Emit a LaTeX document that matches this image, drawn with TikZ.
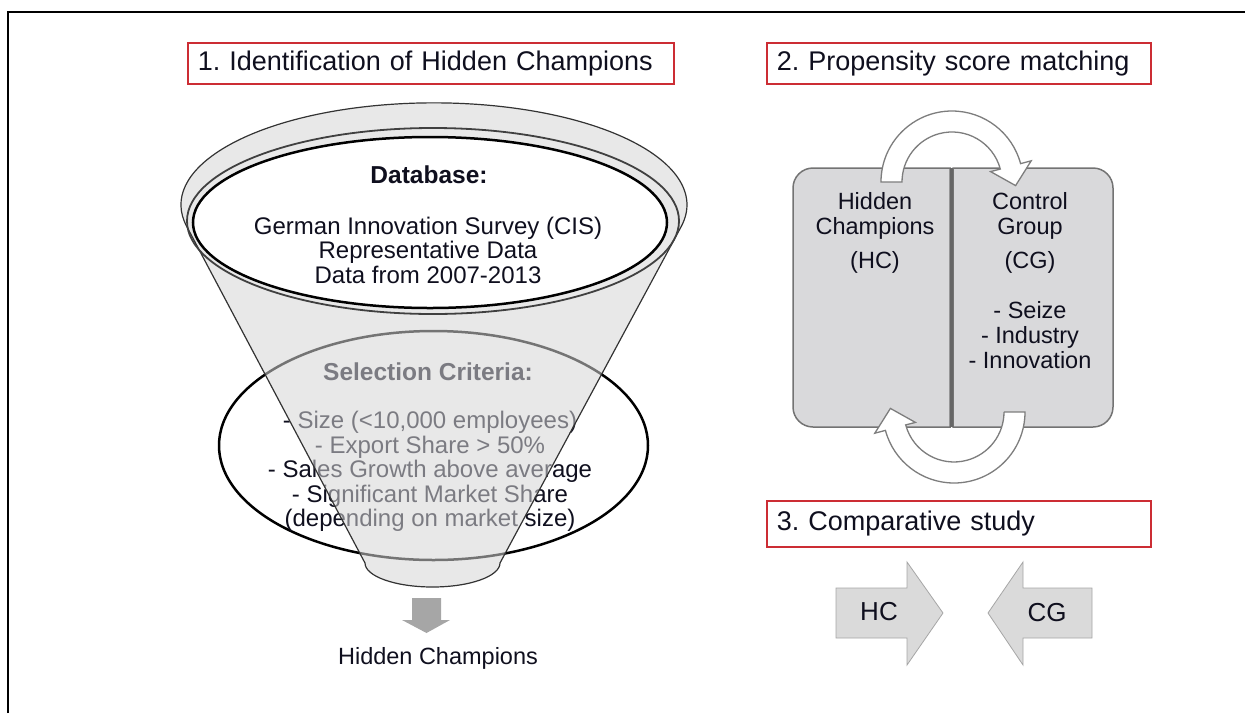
\documentclass[tikz,border=0pt]{standalone}
\usepackage{fontspec}
\setmainfont{Liberation Sans}
\definecolor{boxred}{RGB}{204,45,52}
\definecolor{boxfill}{RGB}{217,217,219}
\definecolor{boxline}{RGB}{115,115,115}
\definecolor{arrline}{RGB}{125,125,125}
\definecolor{funfill}{RGB}{213,213,213}
\definecolor{cmpfill}{RGB}{218,218,218}
\definecolor{downgray}{RGB}{166,166,166}
\definecolor{txt}{RGB}{15,15,30}
\begin{document}
\frenchspacing
\begin{tikzpicture}[x=1pt,y=-1pt,
  every node/.style={inner sep=0pt, align=center, text=txt, font=\fontsize{23.5}{24.5}\selectfont},
  titlebox/.style={draw=boxred, line width=1.8pt, anchor=north west, minimum height=41pt,
     inner xsep=10pt, align=left, font=\fontsize{27}{30}\selectfont},
  boldhead/.style={font=\fontsize{24.5}{26}\selectfont\bfseries},
  splitbox/.style={fill=boxfill, draw=boxline, line width=1.5pt},
  roundarrow/.style={fill=white, draw=arrline, line width=1.3pt},
  cmparrow/.style={fill=cmpfill, draw=black!35, line width=0.8pt},
  boxtext/.style={font=\fontsize{23.5}{25}\selectfont},
  crittext/.style={font=\fontsize{24}{24.5}\selectfont}]
\useasboundingbox (0,0) rectangle (1245,713);
% frame
\draw[line width=2.5pt] (8,713) -- (8,12) -- (1245,12);

% titles
\node[titlebox, text width=466pt] (t1) at (187,42) {1. Identification of Hidden Champions};
\node[titlebox, text width=364pt] (t2) at (766,42) {2. Propensity score matching};
\node[titlebox, text width=364pt, minimum height=46pt] (t3) at (766,500) {3. Comparative study};

% selection criteria ellipse (under the funnel)
\draw[line width=2.5pt] (433.5,445.5) ellipse[x radius=214.5, y radius=114.5];
\node[boldhead] (selhead) at (428,372) {Selection Criteria:};
\node[crittext] (sel) at (430,471.5) {- Size (<10,000 employees)\\- Export Share > 50\%\\- Sales Growth above average\\- Significant Market Share\\(depending on market size)};

% funnel (semi-transparent)
\filldraw[fill=funfill, fill opacity=0.55, draw=black!80, line width=1.2pt]
  (186.5,226) arc[start angle=168.03, end angle=372.18, x radius=253, y radius=102]
  -- (500,563) arc[start angle=0, end angle=180, x radius=67.5, y radius=24] -- cycle;
\draw[black!75, line width=1.8pt] (433,221) ellipse[x radius=246, y radius=93];
\draw[fill=white, line width=2.5pt] (430,222.5) ellipse[x radius=237, y radius=85.5];
\node[boldhead] (dbhead) at (429,175) {Database:};
\node[crittext] (db) at (428,250) {German Innovation Survey (CIS)\\Representative Data\\Data from 2007-2013};

% result arrow
\fill[downgray] (412,598) -- (441,598) -- (441,620) -- (450,620) -- (426.5,633) -- (402,620) -- (412,620) -- cycle;
\node (hcres) at (438,658) {Hidden Champions};

% propensity score matching boxes
\path[splitbox] (950,168) -- (813,168) arc[start angle=270, end angle=180, radius=20]
  -- (793,407) arc[start angle=180, end angle=90, radius=20] -- (950,427) -- cycle;
\path[splitbox] (953,168) -- (1093,168) arc[start angle=270, end angle=360, radius=20]
  -- (1113,407) arc[start angle=0, end angle=90, radius=20] -- (953,427) -- cycle;
\draw[black!60, line width=2.5pt] (951.5,168) -- (951.5,427);
\node[boxtext] (hcname) at (875,215.5) {Hidden\\Champions};
\node[boxtext] (hcabbr) at (875,262) {(HC)};
\node[boxtext] (cgname) at (1030,215.5) {Control\\Group};
\node[boxtext] (cgabbr) at (1030,262) {(CG)};
\node[boxtext] (cgcrit) at (1030,335) {- Seize\\- Industry\\- Innovation};

% circular arrows
\path[roundarrow] (902,182) -- (881,182) arc[start angle=180, end angle=345, radius=71]
  -- (1031.2,160.8) -- (1015.6,185.6) -- (990.6,171.6) -- (1000.3,169.05)
  arc[start angle=345, end angle=180, radius=50] -- cycle;
\path[roundarrow] (1004,412) -- (1025,412) arc[start angle=0, end angle=165, radius=71]
  -- (874.8,433.2) -- (890.4,408.4) -- (915.4,422.4) -- (905.7,424.9)
  arc[start angle=165, end angle=0, radius=50] -- cycle;

% comparative study arrows
\path[cmparrow] (836,588) -- (907,588) -- (907,562) -- (943,613) -- (907,665) -- (907,638) -- (836,638) -- cycle;
\path[cmparrow] (1092,588) -- (1023,588) -- (1023,562) -- (988,613) -- (1023,665) -- (1023,638) -- (1092,638) -- cycle;
\node[font=\fontsize{26}{28}\selectfont] (hc) at (879,612) {HC};
\node[font=\fontsize{26}{28}\selectfont] (cg) at (1047,613) {CG};
\end{tikzpicture}
\end{document}
